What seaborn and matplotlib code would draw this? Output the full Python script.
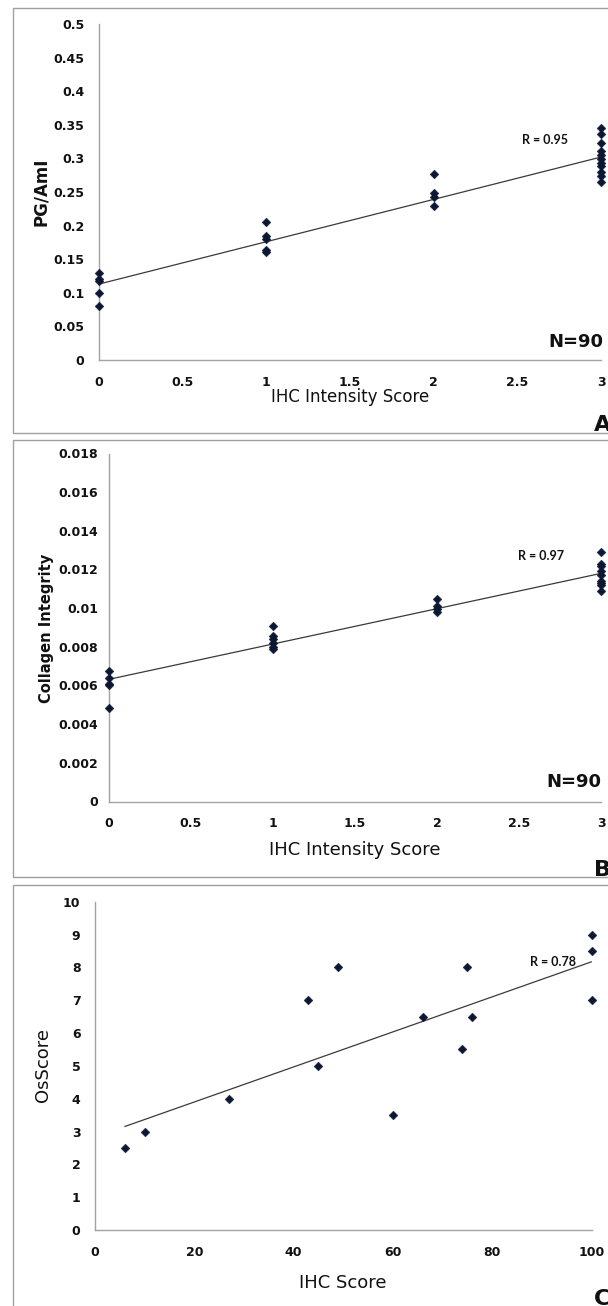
import numpy as np
import pandas as pd
import matplotlib
matplotlib.use("Agg")
import matplotlib.pyplot as plt
from matplotlib.patches import Rectangle
from matplotlib.ticker import FuncFormatter
import seaborn as sns

# ---------------- data ----------------
# Panel A: PG/AmI vs IHC intensity score (visible points)
a_x = [0, 0, 0, 0, 0,
       1, 1, 1, 1, 1,
       2, 2, 2, 2,
       3, 3, 3, 3, 3, 3, 3, 3, 3, 3, 3]
a_y = [0.129, 0.121, 0.117, 0.099, 0.080,
       0.206, 0.184, 0.180, 0.164, 0.161,
       0.277, 0.249, 0.242, 0.229,
       0.345, 0.337, 0.323, 0.311, 0.305, 0.299, 0.293, 0.288, 0.280, 0.274, 0.265]
a_fit_x = [0, 3]
a_fit_y = [0.113, 0.302]
a_r = "R = 0.95"
a_yticks = [0, 0.05, 0.1, 0.15, 0.2, 0.25, 0.3, 0.35, 0.4, 0.45, 0.5]
a_xticks = [0, 0.5, 1, 1.5, 2, 2.5, 3]

# Panel B: Collagen integrity vs IHC intensity score
b_x = [0, 0, 0, 0, 0,
       1, 1, 1, 1, 1, 1,
       2, 2, 2, 2,
       3, 3, 3, 3, 3, 3, 3, 3, 3]
b_y = [0.00675, 0.0064, 0.0061, 0.00605, 0.00485,
       0.0091, 0.00855, 0.0084, 0.0082, 0.0080, 0.0079,
       0.0105, 0.0101, 0.00995, 0.0098,
       0.0129, 0.0123, 0.0122, 0.0119, 0.0117, 0.0114, 0.0113, 0.0112, 0.0109]
b_fit_x = [0, 3]
b_fit_y = [0.00632, 0.0118]
b_r = "R = 0.97"
b_yticks = [0, 0.002, 0.004, 0.006, 0.008, 0.01, 0.012, 0.014, 0.016, 0.018]
b_xticks = [0, 0.5, 1, 1.5, 2, 2.5, 3]

# Panel C: OsScore vs IHC score
c_x = [6, 10, 27, 43, 45, 49, 60, 66, 74, 75, 76, 100, 100, 100]
c_y = [2.5, 3, 4, 7, 5, 8, 3.5, 6.5, 5.5, 8, 6.5, 9, 8.5, 7]
c_r = "R = 0.78"
c_yticks = [0, 1, 2, 3, 4, 5, 6, 7, 8, 9, 10]
c_xticks = [0, 20, 40, 60, 80, 100]

# ---------------- style ----------------
sns.set_theme(style="white")
plt.rcParams["font.family"] = ["DejaVu Sans"]
LATO = ["Lato", "DejaVu Sans"]

W, H = 608, 1306
fig = plt.figure(figsize=(W / 100, H / 100), dpi=100)

MARK = "#0b1733"
SPINE = "#a3a3a3"
TXT = "#111111"
LINE = "#3a3a3a"


def px_axes(left, right, top, bottom):
    return fig.add_axes([left / W, 1 - bottom / H, (right - left) / W, (bottom - top) / H])


def fmt(v, pos):
    return "{:g}".format(round(v, 6))


def style_axes(ax, xticks, yticks, xlim, ylim, ypad):
    ax.set_xlim(*xlim)
    ax.set_ylim(*ylim)
    ax.set_xticks(xticks)
    ax.set_yticks(yticks)
    ax.xaxis.set_major_formatter(FuncFormatter(fmt))
    ax.yaxis.set_major_formatter(FuncFormatter(fmt))
    for s in ["top", "right"]:
        ax.spines[s].set_visible(False)
    for s in ["left", "bottom"]:
        ax.spines[s].set_color(SPINE)
        ax.spines[s].set_linewidth(1.0)
    ax.tick_params(axis="both", which="major", direction="out", length=3.5,
                   width=0.9, color=SPINE, labelsize=9, labelcolor=TXT)
    ax.tick_params(axis="y", pad=ypad)
    ax.tick_params(axis="x", pad=8)
    for lab in ax.get_xticklabels() + ax.get_yticklabels():
        lab.set_fontweight("bold")
    ax.set_facecolor("none")


# panel frames
for (x0, y0, y1) in [(12.5, 7.5, 433), (12.5, 440, 877), (12.5, 885, 1320)]:
    fig.patches.append(Rectangle((x0 / W, 1 - y1 / H), (W + 20 - x0) / W, (y1 - y0) / H,
                                 transform=fig.transFigure, fill=False,
                                 edgecolor="#a0a0a0", linewidth=1.0))

SC = dict(marker="D", s=20, color=MARK, edgecolor=MARK, linewidth=0.3,
          clip_on=False, zorder=3, alpha=1)

# ---------- Panel A ----------
axA = px_axes(99, 601, 24, 360)
dfa = pd.DataFrame({"x": a_x, "y": a_y})
sns.lineplot(x=a_fit_x, y=a_fit_y, ax=axA, color=LINE, linewidth=0.9)
sns.scatterplot(data=dfa, x="x", y="y", ax=axA, **SC)
style_axes(axA, a_xticks, a_yticks, (0, 3), (0, 0.5), 7)
axA.set_xlabel("IHC Intensity Score", fontsize=12, color=TXT)
axA.set_ylabel("PG/AmI", fontsize=12, fontweight="bold", color=TXT)
axA.xaxis.set_label_coords(0.5, -0.110)
axA.xaxis.label.set_va("center")
axA.yaxis.set_label_coords(-0.1155, 0.5)
axA.yaxis.label.set_va("center")
axA.text(2.665, 0.327, a_r, fontsize=9, fontweight="bold", family=LATO, color=TXT,
         ha="center", va="center")
axA.text(1.005, 0.054, "N=90", transform=axA.transAxes, fontsize=13, fontweight="bold",
         color=TXT, ha="right", va="center")

# ---------- Panel B ----------
axB = px_axes(109, 601, 453.5, 801.5)
dfb = pd.DataFrame({"x": b_x, "y": b_y})
sns.lineplot(x=b_fit_x, y=b_fit_y, ax=axB, color=LINE, linewidth=0.9)
sns.scatterplot(data=dfb, x="x", y="y", ax=axB, **SC)
style_axes(axB, b_xticks, b_yticks, (0, 3), (0, 0.018), 4.5)
axB.set_xlabel("IHC Intensity Score", fontsize=13, color=TXT)
axB.set_ylabel("Collagen Integrity", fontsize=10.5, fontweight="bold", color=TXT)
axB.xaxis.set_label_coords(0.5, -0.139)
axB.xaxis.label.set_va("center")
axB.yaxis.set_label_coords(-0.128, 0.4986)
axB.yaxis.label.set_va("center")
axB.text(2.634, 0.01271, b_r, fontsize=9, fontweight="bold", family=LATO, color=TXT,
         ha="center", va="center")
axB.text(1.0, 0.055, "N=90", transform=axB.transAxes, fontsize=13, fontweight="bold",
         color=TXT, ha="right", va="center")

# ---------- Panel C ----------
axC = px_axes(95, 591.5, 901.7, 1230)
dfc = pd.DataFrame({"x": c_x, "y": c_y})
sns.regplot(data=dfc, x="x", y="y", ax=axC, ci=None, marker="D",
            scatter_kws={"s": 20, "color": MARK, "edgecolor": MARK, "linewidths": 0.3,
                         "clip_on": False, "zorder": 3, "alpha": 1},
            line_kws={"color": LINE, "linewidth": 0.9})
style_axes(axC, c_xticks, c_yticks, (0, 100), (0, 10), 7)
axC.set_xlabel("IHC Score", fontsize=13, color=TXT)
axC.set_ylabel("OsScore", fontsize=13, color=TXT)
axC.xaxis.set_label_coords(0.4995, -0.161)
axC.xaxis.label.set_va("center")
axC.yaxis.set_label_coords(-0.1047, 0.5026)
axC.yaxis.label.set_va("center")
axC.text(92.2, 8.16, c_r, fontsize=9, fontweight="bold", family=LATO, color=TXT,
         ha="center", va="center")

# panel letters
for letter, yb in [("A", 431), ("B", 876), ("C", 1305)]:
    fig.text(594 / W, 1 - yb / H, letter, fontsize=16, fontweight="bold",
             color=TXT, ha="left", va="baseline")

fig.savefig("out.png", dpi=100)
